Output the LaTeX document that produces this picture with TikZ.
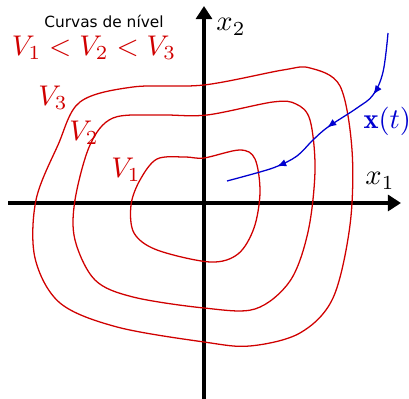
\documentclass[tikz,border=0pt]{standalone}
\usepackage{fontspec}
\newfontfamily\dejavu{DejaVu Sans}
\usetikzlibrary{arrows.meta,decorations.markings}
\definecolor{myred}{RGB}{208,0,0}
\definecolor{myblue}{RGB}{0,0,208}
\tikzset{
  axis/.style={line width=1.4pt,-{Triangle[length=4.6pt,width=5.6pt]}},
  level/.style={myred,line width=0.45pt},
  traj/.style={myblue,line width=0.45pt,postaction={decorate},
    decoration={markings,
      mark=at position 0.27 with {\arrow{Latex[length=3.2pt,width=2.6pt]}},
      mark=at position 0.51 with {\arrow{Latex[length=3.2pt,width=2.6pt]}},
      mark=at position 0.78 with {\arrow{Latex[length=3.2pt,width=2.6pt]}}}},
  redlab/.style={myred,inner sep=0pt},
}
\begin{document}
\begin{tikzpicture}[x=0.351pt,y=-0.351pt]
\useasboundingbox (0,0) rectangle (409,399);
% axes
\coordinate (xs) at (8,203);
\coordinate (xe) at (401,203);
\coordinate (ys) at (204,399);
\coordinate (ye) at (204,6);
\draw[axis] (xs) -- (xe);
\draw[axis] (ys) -- (ye);
\node[inner sep=0pt] (x2) at (231,27) {$x_2$};
\node[inner sep=0pt] (x1) at (380,181) {$x_1$};
% level curves
\draw[level] plot[smooth cycle,tension=0.55] coordinates {
 (204,85) (283,70) (310,68) (340,86) (352,150) (350,225) (333,298) (300,333)
 (250,346) (204,342) (117,327) (60,303) (35,258) (36,200) (58,145) (80,102) (133,87)};
\draw[level] plot[smooth cycle,tension=0.55] coordinates {
 (207,115) (273,102) (296,104) (310,120) (315,170) (308,232) (290,281) (255,309)
 (204,308) (133,297) (95,280) (75,240) (75,200) (90,145) (113,118) (160,115)};
\draw[level] plot[smooth cycle,tension=0.55] coordinates {
 (204,158) (240,150) (255,159) (260,192) (254,228) (238,254) (210,262) (157,250)
 (134,233) (131,205) (140,180) (157,159) (185,157)};
% trajectory
\draw[traj] plot[smooth,tension=0.6] coordinates {
 (388,33) (383,72) (373,95) (357,108) (328,127) (313,140) (297,156) (278,166)
 (260,172) (227,181)};
% labels
\node[inner sep=0pt,font=\dejavu\fontsize{5.4}{6}\selectfont] (title) at (104,21) {Curvas de nível};
\node[redlab] (order) at (94,48) {$V_1 < V_2 < V_3$};
\node[redlab] (v3) at (53,98) {$V_3$};
\node[redlab] (v2) at (84,133) {$V_2$};
\node[redlab] (v1) at (126,170) {$V_1$};
\node[myblue,inner sep=0pt,anchor=west] (xt) at (363,121) {$\mathbf{x}(t)$};
\end{tikzpicture}
\end{document}
